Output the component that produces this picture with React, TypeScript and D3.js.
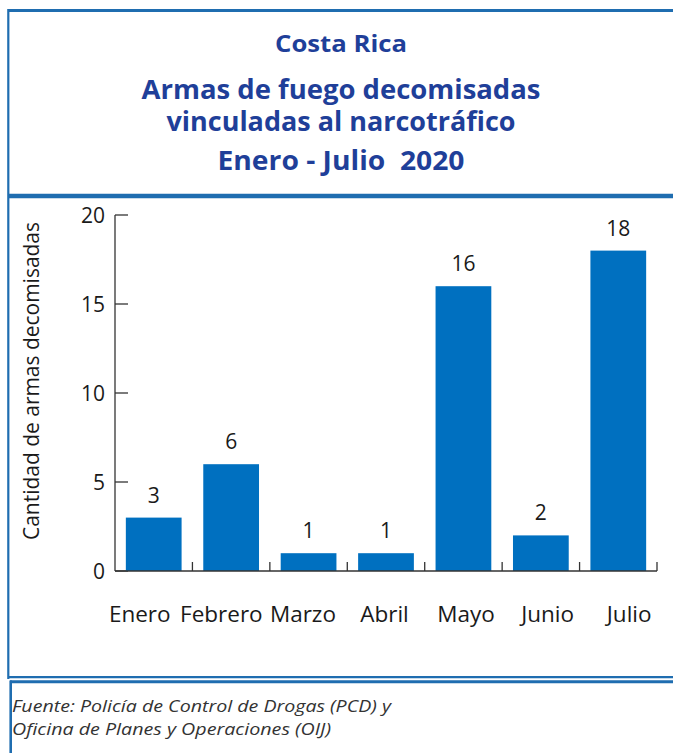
import React from "react";
import * as d3 from "d3";

const months = ["Enero", "Febrero", "Marzo", "Abril", "Mayo", "Junio", "Julio"];
const values = [3, 6, 1, 1, 16, 2, 18];
const yTicks = [0, 5, 10, 15, 20];
const titleLines = [
  "Costa Rica",
  "Armas de fuego decomisadas",
  "vinculadas al narcotráfico",
  "Enero - Julio  2020",
];
const yLabel = "Cantidad de armas decomisadas";
const sourceLines = [
  "Fuente: Policía de Control de Drogas (PCD) y",
  "Oficina de Planes y Operaciones (OIJ)",
];

const W = 673;
const H = 753;
const BORDER = "#1f6db0";
const BAR = "#0070c0";
const TITLE = "#1f3f99";
const INK = "#1a1a1a";
const FONT = "'Open Sans', 'Noto Sans', sans-serif";

export default function App() {
  const x = d3.scaleBand<string>().domain(months).range([115, 657]).paddingInner(0.28).paddingOuter(0.14);
  const xBand = d3.scaleBand<string>().domain(months).range([115, 657]);
  const xLab = d3.scaleBand<string>().domain(months).range([99, 670]);
  const y = d3.scaleLinear().domain([0, 20]).range([571, 215]);

  const titleY = [52, 99, 131, 170];
  const titleSize = [23, 26, 26, 26];
  const titleLen = [132, 399, 349, 247];

  return (
    <svg width={W} height={H} style={{ position: "absolute", left: 0, top: 0, background: "#fff" }}>
      {/* frames */}
      <line x1={8} y1={10.5} x2={W} y2={10.5} stroke={BORDER} strokeWidth={3} />
      <line x1={8.3} y1={9} x2={8.3} y2={679} stroke={BORDER} strokeWidth={2.2} />
      <line x1={8} y1={196} x2={W} y2={196} stroke={BORDER} strokeWidth={4.5} />
      <line x1={8} y1={677.2} x2={W} y2={677.2} stroke={BORDER} strokeWidth={2.2} />
      <line x1={10} y1={681.7} x2={W} y2={681.7} stroke={BORDER} strokeWidth={3} />
      <line x1={10.7} y1={680.5} x2={10.7} y2={H} stroke={BORDER} strokeWidth={2.6} />

      {/* title */}
      {titleLines.map((t, i) => (
        <text
          key={t}
          x={341}
          y={titleY[i]}
          textAnchor="middle"
          fontFamily={FONT}
          fontWeight={700}
          fontSize={titleSize[i]}
          fill={TITLE}
          textLength={titleLen[i]}
          lengthAdjust="spacingAndGlyphs"
          style={{ whiteSpace: "pre" }}
        >
          {t}
        </text>
      ))}

      {/* y axis label */}
      <text
        transform="translate(39,381) rotate(-90)"
        textAnchor="middle"
        fontFamily={FONT}
        fontSize={21}
        fill={INK}
        textLength={318}
        lengthAdjust="spacingAndGlyphs"
      >
        {yLabel}
      </text>

      {/* y axis */}
      <line x1={115} y1={y(20)} x2={115} y2={y(0)} stroke="#333" strokeWidth={1.3} />
      {yTicks.map((t) => (
        <g key={t}>
          <line x1={115} x2={128} y1={y(t)} y2={y(t)} stroke="#333" strokeWidth={1.3} />
          <text x={105} y={y(t) + 7.5} textAnchor="end" fontFamily={FONT} fontSize={21} fill={INK}>
            {t}
          </text>
        </g>
      ))}

      {/* bars */}
      {months.map((m, i) => (
        <g key={m}>
          <rect x={x(m)} y={y(values[i])} width={x.bandwidth()} height={y(0) - y(values[i])} fill={BAR} />
          <text
            x={(x(m) as number) + x.bandwidth() / 2}
            y={y(values[i]) - 15}
            textAnchor="middle"
            fontFamily={FONT}
            fontSize={21}
            fill={INK}
          >
            {values[i]}
          </text>
        </g>
      ))}

      {/* x axis */}
      <line x1={115} x2={657} y1={571} y2={571} stroke="#333" strokeWidth={1.3} />
      {months.map((m) => (
        <line
          key={m}
          x1={(xBand(m) as number) + xBand.bandwidth()}
          x2={(xBand(m) as number) + xBand.bandwidth()}
          y1={571}
          y2={562}
          stroke="#333"
          strokeWidth={1.3}
        />
      ))}
      {months.map((m) => (
        <text
          key={m}
          x={(xLab(m) as number) + xLab.bandwidth() / 2}
          y={622}
          textAnchor="middle"
          fontFamily={FONT}
          fontSize={22.5}
          fill={INK}
        >
          {m}
        </text>
      ))}

      {/* source */}
      {sourceLines.map((s, i) => (
        <text
          key={s}
          x={12}
          y={712 + i * 23}
          fontFamily={FONT}
          fontStyle="italic"
          fontSize={16.5}
          fill="#333"
          textLength={i === 0 ? 379 : 319}
          lengthAdjust="spacingAndGlyphs"
        >
          {s}
        </text>
      ))}
    </svg>
  );
}
